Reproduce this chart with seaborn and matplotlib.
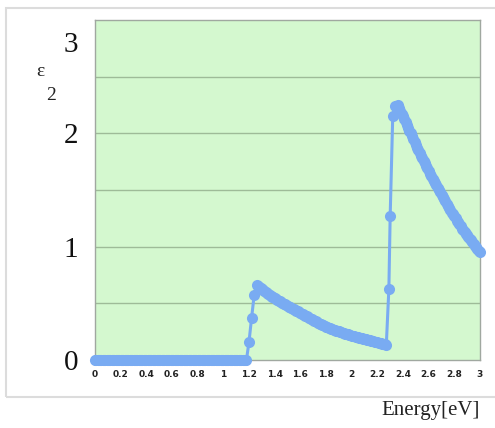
import numpy as np
import pandas as pd
import matplotlib
matplotlib.use("Agg")
import matplotlib.pyplot as plt
from matplotlib.patches import Rectangle
from matplotlib.transforms import ScaledTranslation
import seaborn as sns

# ---- data ----
# flat region below the gap: epsilon_2 = 0
energy_zero = list(np.round(np.arange(0.0, 1.185, 0.01), 2))
eps2_zero = [0.0] * len(energy_zero)

# first absorption edge and its decay
energy_band1 = [1.20, 1.22, 1.24] + list(np.round(np.arange(1.26, 2.275, 0.01), 2))
eps2_band1 = [0.16, 0.37, 0.57,
              0.660, 0.652, 0.645, 0.635, 0.625, 0.616, 0.607, 0.598, 0.590, 0.582,
              0.575, 0.567, 0.560, 0.552, 0.545, 0.537, 0.530, 0.523, 0.517, 0.511,
              0.505, 0.498, 0.491, 0.484, 0.478, 0.471, 0.465, 0.459, 0.453, 0.446,
              0.440, 0.434, 0.428, 0.421, 0.415, 0.409, 0.403, 0.396, 0.390, 0.384,
              0.378, 0.371, 0.365, 0.358, 0.352, 0.346, 0.340, 0.333, 0.327, 0.321,
              0.316, 0.310, 0.305, 0.300, 0.295, 0.290, 0.285, 0.280, 0.276, 0.272,
              0.268, 0.264, 0.260, 0.256, 0.252, 0.248, 0.244, 0.240, 0.237, 0.233,
              0.230, 0.226, 0.223, 0.219, 0.216, 0.213, 0.210, 0.206, 0.203, 0.200,
              0.197, 0.194, 0.191, 0.188, 0.185, 0.182, 0.179, 0.176, 0.173, 0.170,
              0.167, 0.164, 0.161, 0.158, 0.155, 0.152, 0.150, 0.147, 0.145, 0.142,
              0.140, 0.135]

# second absorption edge and its decay
energy_band2 = [2.29, 2.30, 2.32, 2.34] + list(np.round(np.arange(2.36, 3.005, 0.01), 2))
eps2_band2 = [0.63, 1.27, 2.15, 2.24,
              2.250, 2.225, 2.200, 2.175, 2.150, 2.125, 2.100, 2.075, 2.050, 2.025,
              2.000, 1.975, 1.950, 1.925, 1.900, 1.875, 1.850, 1.825, 1.800, 1.780,
              1.760, 1.735, 1.710, 1.690, 1.670, 1.645, 1.620, 1.600, 1.580, 1.560,
              1.540, 1.520, 1.500, 1.480, 1.460, 1.440, 1.420, 1.400, 1.380, 1.360,
              1.340, 1.320, 1.300, 1.285, 1.270, 1.250, 1.230, 1.215, 1.200, 1.180,
              1.160, 1.145, 1.130, 1.115, 1.100, 1.085, 1.070, 1.055, 1.040, 1.025,
              1.010, 0.995, 0.980, 0.965, 0.950]

x_ticks = [0, 0.2, 0.4, 0.6, 0.8, 1, 1.2, 1.4, 1.6, 1.8, 2, 2.2, 2.4, 2.6, 2.8, 3]
x_tick_labels = ["0", "0.2", "0.4", "0.6", "0.8", "1", "1.2", "1.4", "1.6", "1.8", "2", "2.2", "2.4", "2.6", "2.8", "3"]
y_ticks = [0, 1, 2, 3]
y_tick_labels = ["0", "1", "2", "3"]
y_grid = [0.5, 1.0, 1.5, 2.0, 2.5]

assert len(energy_band1) == len(eps2_band1)
assert len(energy_band2) == len(eps2_band2)

df = pd.DataFrame({"Energy": energy_zero + energy_band1 + energy_band2,
                   "eps2": eps2_zero + eps2_band1 + eps2_band2})

sns.set_style("white")
plt.rcParams["font.family"] = ["Liberation Serif", "DejaVu Serif"]

fig = plt.figure(figsize=(4.95, 4.28), dpi=100)
ax = fig.add_axes([95 / 495, 1 - 360 / 428, (480 - 95) / 495, (360 - 20) / 428])

# outer light frame
fig.patches.append(Rectangle((6 / 495, 1 - 397 / 428), 1.2, (397 - 8) / 428, transform=fig.transFigure,
                             facecolor="none", edgecolor="#dcdcdc", linewidth=1.5, zorder=0))

ax.set_facecolor("#d4f8cf")
line_color = "#79abf2"
sns.lineplot(data=df, x="Energy", y="eps2", ax=ax, color=line_color, linewidth=2.2,
             marker="o", markersize=8, markeredgewidth=0, markerfacecolor=line_color,
             clip_on=False, zorder=3)

for g in y_grid:
    ax.axhline(g, color="#9ebb98", linewidth=1.0, zorder=1)

ax.set_xlim(0, 3)
ax.set_ylim(0, 3)
ax.set_xticks(x_ticks)
ax.set_xticklabels(x_tick_labels, fontfamily="DejaVu Sans", fontsize=6.5, fontweight="bold", color="#222222")
ax.set_yticks(y_ticks)
ax.set_yticklabels(y_tick_labels, fontsize=21, color="#111111")
ax.tick_params(axis="x", direction="in", length=3, color="#9aa09a", pad=7)
ax.tick_params(axis="y", length=0, pad=12)
ylabs = ax.get_yticklabels()
ylabs[-1].set_transform(ylabs[-1].get_transform() + ScaledTranslation(0, -22 / 100, fig.dpi_scale_trans))

for s in ax.spines.values():
    s.set_color("#a0a8a0")
    s.set_linewidth(1.0)

ax.set_xlabel("")
ax.set_ylabel("")
fig.text(480 / 495, 1 - 410 / 428, "Energy[eV]", ha="right", va="center", fontsize=15, color="#222222")
fig.text(40 / 495, 1 - 72 / 428, "ε", ha="center", va="center", fontsize=14, color="#222222")
fig.text(51 / 495, 1 - 95 / 428, "2", ha="center", va="center", fontsize=14, color="#222222")

fig.savefig("out.png", dpi=100)
